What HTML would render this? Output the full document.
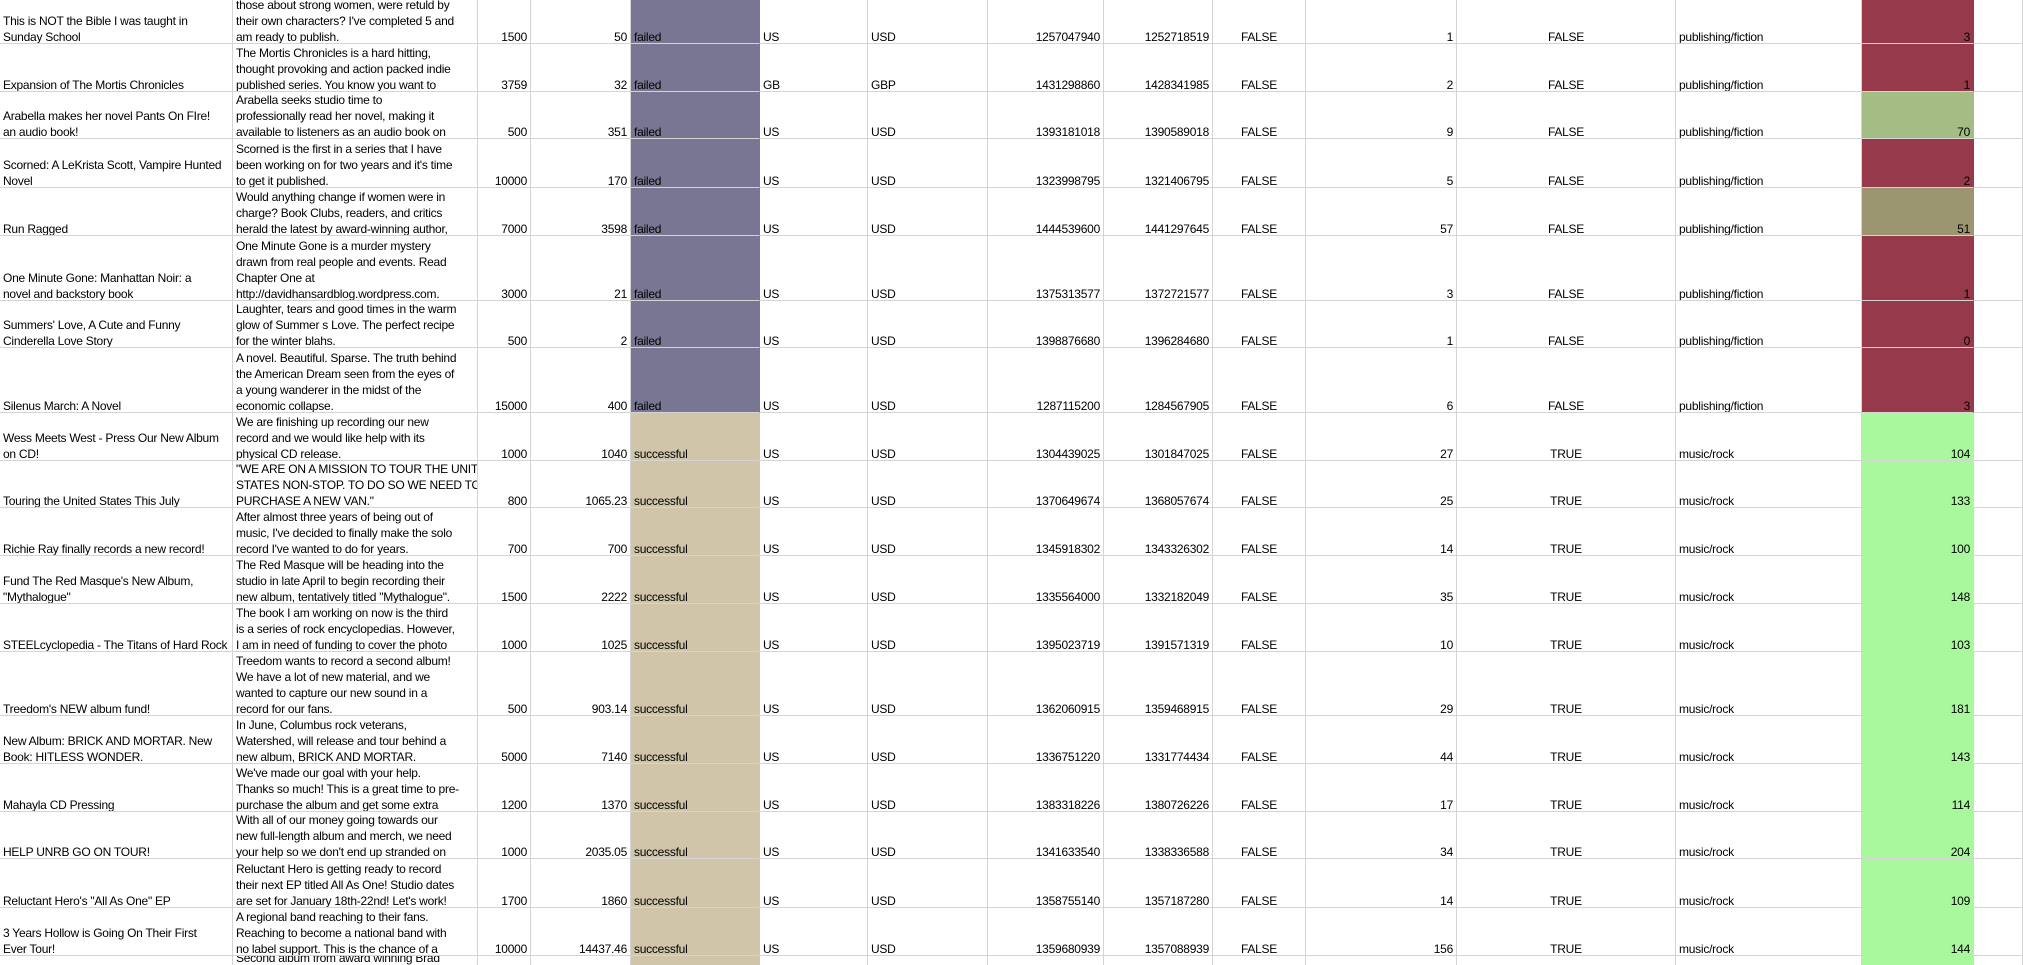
<!DOCTYPE html>
<html><head><meta charset="utf-8">
<style>
html,body{margin:0;padding:0;background:#fff;}
#sheet{position:relative;width:2023px;height:965px;overflow:hidden;font-family:"Liberation Sans",Arial,sans-serif;font-size:12px;letter-spacing:-0.25px;color:#000;}
.cell{position:absolute;box-sizing:border-box;overflow:hidden;display:flex;flex-direction:column;justify-content:flex-end;line-height:16px;padding:0 3px 0 3px;white-space:nowrap;border-right:1px solid #d4d4d4;border-bottom:1px solid #d4d4d4;}
.cell>div:last-child{margin-bottom:-2px;}
.l{text-align:left}.r{text-align:right}.c{text-align:center}
</style></head><body>
<div id="sheet"></div>
<script>
const colEdges=[0,233,478,531,631,760,868,988,1104,1213,1306,1457,1676,1862,1974,2023];
const rowBottoms=[44,92,139,188,236,301,348,413,461,508,556,604,652,716,764,812,859,908,956,965];
const names=[["This is NOT the Bible I was taught in","Sunday School"],["Expansion of The Mortis Chronicles"],["Arabella makes her novel Pants On FIre!","an audio book!"],["Scorned: A LeKrista Scott, Vampire Hunted","Novel"],["Run Ragged"],["One Minute Gone: Manhattan Noir: a","novel and backstory book"],["Summers' Love, A Cute and Funny","Cinderella Love Story"],["Silenus March: A Novel"],["Wess Meets West - Press Our New Album","on CD!"],["Touring the United States This July"],["Richie Ray finally records a new record!"],["Fund The Red Masque's New Album,","\"Mythalogue\""],["STEELcyclopedia - The Titans of Hard Rock"],["Treedom's NEW album fund!"],["New Album: BRICK AND MORTAR. New","Book: HITLESS WONDER."],["Mahayla CD Pressing"],["HELP UNRB GO ON TOUR!"],["Reluctant Hero's \"All As One\" EP"],["3 Years Hollow is Going On Their First","Ever Tour!"],[""]];
const blurbs=[["those about strong women, were retuld by","their own characters? I've completed 5 and","am ready to publish."],["The Mortis Chronicles is a hard hitting,","thought provoking and action packed indie","published series. You know you want to"],["Arabella seeks studio time to","professionally read her novel, making it","available to listeners as an audio book on"],["Scorned is the first in a series that I have","been working on for two years and it's time","to get it published."],["Would anything change if women were in","charge? Book Clubs, readers, and critics","herald the latest by award-winning author,"],["One Minute Gone is a murder mystery","drawn from real people and events. Read","Chapter One at","http://davidhansardblog.wordpress.com."],["Laughter, tears and good times in the warm","glow of Summer s Love. The perfect recipe","for the winter blahs."],["A novel. Beautiful. Sparse. The truth behind","the American Dream seen from the eyes of","a young wanderer in the midst of the","economic collapse."],["We are finishing up recording our new","record and we would like help with its","physical CD release."],["\"WE ARE ON A MISSION TO TOUR THE UNITED","STATES NON-STOP. TO DO SO WE NEED TO","PURCHASE A NEW VAN.\""],["After almost three years of being out of","music, I've decided to finally make the solo","record I've wanted to do for years."],["The Red Masque will be heading into the","studio in late April to begin recording their","new album, tentatively titled \"Mythalogue\"."],["The book I am working on now is the third","is a series of rock encyclopedias. However,","I am in need of funding to cover the photo"],["Treedom wants to record a second album!","We have a lot of new material, and we","wanted to capture our new sound in a","record for our fans."],["In June, Columbus rock veterans,","Watershed, will release and tour behind a","new album, BRICK AND MORTAR."],["We've made our goal with your help.","Thanks so much! This is a great time to pre-","purchase the album and get some extra"],["With all of our money going towards our","new full-length album and merch, we need","your help so we don't end up stranded on"],["Reluctant Hero is getting ready to record","their next EP titled All As One! Studio dates","are set for January 18th-22nd! Let's work!"],["A regional band reaching to their fans.","Reaching to become a national band with","no label support. This is the chance of a"],["Second album from award winning Brad"]];
const goals=["1500","3759","500","10000","7000","3000","500","15000","1000","800","700","1500","1000","500","5000","1200","1000","1700","10000",""];
const pledged=["50","32","351","170","3598","21","2","400","1040","1065.23","700","2222","1025","903.14","7140","1370","2035.05","1860","14437.46",""];
const states=["failed","failed","failed","failed","failed","failed","failed","failed","successful","successful","successful","successful","successful","successful","successful","successful","successful","successful","successful","successful"];
const countries=["US","GB","US","US","US","US","US","US","US","US","US","US","US","US","US","US","US","US","US",""];
const currencies=["USD","GBP","USD","USD","USD","USD","USD","USD","USD","USD","USD","USD","USD","USD","USD","USD","USD","USD","USD",""];
const deadlines=["1257047940","1431298860","1393181018","1323998795","1444539600","1375313577","1398876680","1287115200","1304439025","1370649674","1345918302","1335564000","1395023719","1362060915","1336751220","1383318226","1341633540","1358755140","1359680939",""];
const launched=["1252718519","1428341985","1390589018","1321406795","1441297645","1372721577","1396284680","1284567905","1301847025","1368057674","1343326302","1332182049","1391571319","1359468915","1331774434","1380726226","1338336588","1357187280","1357088939",""];
const staffPick=["FALSE","FALSE","FALSE","FALSE","FALSE","FALSE","FALSE","FALSE","FALSE","FALSE","FALSE","FALSE","FALSE","FALSE","FALSE","FALSE","FALSE","FALSE","FALSE",""];
const backers=["1","2","9","5","57","3","1","6","27","25","14","35","10","29","44","17","34","14","156",""];
const spotlight=["FALSE","FALSE","FALSE","FALSE","FALSE","FALSE","FALSE","FALSE","TRUE","TRUE","TRUE","TRUE","TRUE","TRUE","TRUE","TRUE","TRUE","TRUE","TRUE",""];
const categories=["publishing/fiction","publishing/fiction","publishing/fiction","publishing/fiction","publishing/fiction","publishing/fiction","publishing/fiction","publishing/fiction","music/rock","music/rock","music/rock","music/rock","music/rock","music/rock","music/rock","music/rock","music/rock","music/rock","music/rock",""];
const percents=["3","1","70","2","51","1","0","3","104","133","100","148","103","181","143","114","204","109","144",""];

function pctColor(p){
  if(p==="") return "#a9f89e";
  const v=+p;
  if(v>=100) return "#a9f89e";
  if(v>=60) return "#a3bd84";
  if(v>=40) return "#9c9670";
  return "#963a4b";
}
const sheet=document.getElementById('sheet');
const last=rowBottoms.length-1;
function cell(r,c,lines,align,bg,name){
  const top=r===0?-40:rowBottoms[r-1];
  const el=document.createElement('div');
  el.className='cell '+align;
  el.style.left=colEdges[c]+'px';
  el.style.top=top+'px';
  el.style.width=(colEdges[c+1]-colEdges[c])+'px';
  el.style.height=(rowBottoms[r]-top)+'px';
  if(bg){el.style.background=bg;el.style.borderRightColor=bg;}
  if(r===last){el.style.justifyContent='flex-start';el.style.borderBottom='none';el.style.lineHeight='10px';}
  lines.forEach(t=>{const d=document.createElement('div');d.textContent=t||'\u00a0';if(r===last){d.style.marginTop='-3px';}el.appendChild(d);});
  
  
  sheet.appendChild(el);
}
for(let r=0;r<rowBottoms.length;r++){
  const st=states[r];
  const stBg=st==='failed'?'#787693':'#d0c5a9';
  cell(r,0,names[r],'l',null,'name-cell');
  cell(r,1,blurbs[r],'l',null,'blurb-cell');
  cell(r,2,[goals[r]],'r',null,'goal-cell');
  cell(r,3,[pledged[r]],'r',null,'pledged-cell');
  cell(r,4,[r===last?'':st],'l',stBg,'state-cell');
  cell(r,5,[countries[r]],'l',null,'country-cell');
  cell(r,6,[currencies[r]],'l',null,'currency-cell');
  cell(r,7,[deadlines[r]],'r',null,'deadline-cell');
  cell(r,8,[launched[r]],'r',null,'launched-cell');
  cell(r,9,[staffPick[r]],'c',null,'staff-pick-cell');
  cell(r,10,[backers[r]],'r',null,'backers-cell');
  cell(r,11,[spotlight[r]],'c',null,'spotlight-cell');
  cell(r,12,[categories[r]],'l',null,'category-cell');
  cell(r,13,[percents[r]],'r',pctColor(percents[r]),'percent-funded-cell');
  cell(r,14,[''],'l',null,'empty-cell');
}
</script>
</body></html>
